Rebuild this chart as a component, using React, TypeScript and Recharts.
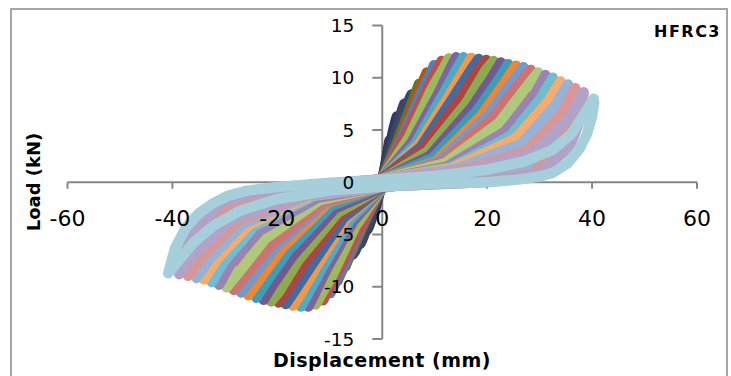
import { ScatterChart, Scatter, XAxis, YAxis, ReferenceLine, ReferenceDot } from 'recharts';

const xTicks = [-60, -40, -20, 0, 20, 40, 60];
const yTicks = [-15, -10, -5, 0, 5, 10, 15];

// one array per load cycle, [displacement mm, load kN]
const cycle01 = [[1.4,4],[1.3,3.8],[1.1,3.2],[0.6,1.7],[0,0.1],[-0.7,-1.2],[-1.1,-1.9],[-1.3,-2.3],[-1.4,-2.6],[-1.3,-2.5],[-1.1,-2.1],[-0.6,-1.1],[0,-0.1],[0.7,1.8],[1.1,2.9],[1.3,3.6],[1.4,4]];
const cycle02 = [[2.8,6.3],[2.6,6],[2.1,5],[1.1,2.7],[0,0.2],[-1.4,-2],[-2.2,-3.2],[-2.6,-4.1],[-2.8,-4.5],[-2.6,-4.3],[-2.1,-3.6],[-1.1,-1.9],[0,-0.2],[1.4,2.8],[2.2,4.5],[2.6,5.7],[2.8,6.3]];
const cycle03 = [[4.2,7.5],[3.9,7.1],[3.2,5.9],[1.7,3.2],[0,0.2],[-2.1,-2.7],[-3.3,-4.2],[-3.9,-5.3],[-4.2,-5.9],[-3.9,-5.6],[-3.2,-4.7],[-1.7,-2.5],[0,-0.2],[2.1,3.4],[3.3,5.4],[3.9,6.8],[4.2,7.5]];
const cycle04 = [[5.6,8.4],[5.2,8],[4.2,6.6],[2.2,3.6],[0,0.3],[-2.8,-3.1],[-4.4,-5],[-5.2,-6.2],[-5.6,-6.9],[-5.2,-6.6],[-4.2,-5.5],[-2.2,-3],[0,-0.3],[2.8,3.8],[4.4,6],[5.2,7.6],[5.6,8.4]];
const cycle05 = [[7,9.4],[6.5,8.7],[5.3,7.1],[2.8,3.8],[0,0.3],[-3.5,-1.8],[-5.5,-4.2],[-6.5,-6.4],[-6.9,-7.4],[-7,-8],[-6.5,-7.4],[-5.3,-6.1],[-2.8,-3.2],[0,-0.3],[3.5,1.9],[5.5,4.7],[6.5,7.5],[6.9,8.7],[7,9.4]];
const cycle06 = [[8.5,10.5],[7.9,9.8],[6.4,8],[3.4,4.2],[0,0.3],[-4.3,-2.1],[-6.6,-4.9],[-7.9,-7.5],[-8.3,-8.6],[-8.5,-9.4],[-7.9,-8.7],[-6.4,-7.1],[-3.4,-3.8],[0,-0.4],[4.3,2.1],[6.6,5.2],[7.9,8.4],[8.3,9.8],[8.5,10.5]];
const cycle07 = [[9.9,11.2],[9.2,10.4],[7.4,8.5],[4,4.5],[0,0.3],[-5,-2.3],[-7.7,-5.5],[-9.2,-8.5],[-9.7,-9.8],[-9.9,-10.6],[-9.2,-9.9],[-7.4,-8.1],[-4,-4.2],[0,-0.4],[5,2.2],[7.7,5.6],[9.2,9],[9.7,10.4],[9.9,11.2]];
const cycle08 = [[11.3,11.6],[10.5,10.8],[8.5,8.8],[4.5,4.6],[0,0.3],[-5.7,-2.5],[-8.8,-5.9],[-10.5,-9],[-11.1,-10.4],[-11.3,-11.3],[-10.5,-10.5],[-8.5,-8.6],[-4.5,-4.5],[0,-0.5],[5.7,2.3],[8.8,5.8],[10.5,9.3],[11.1,10.8],[11.3,11.6]];
const cycle09 = [[12.7,11.85],[11.8,11],[9.5,9],[5.1,4.3],[0,0.4],[-6.4,-2.6],[-9.9,-6.1],[-11.8,-9.4],[-12.4,-10.8],[-12.7,-11.7],[-11.8,-10.9],[-9.5,-8.9],[-5.1,-4.2],[0,-0.5],[6.4,2.4],[9.9,5.9],[11.8,9.5],[12.4,11],[12.7,11.85]];
const cycle10 = [[14.1,11.95],[13.1,11],[10.6,8.4],[5.6,3.8],[0,0.4],[-7.1,-1.4],[-11,-3.8],[-13.1,-7.7],[-13.8,-10.4],[-14.1,-11.9],[-13.1,-10.9],[-10.6,-8.3],[-5.6,-3.8],[0,-0.5],[7.1,1],[11,3],[13.1,7.2],[13.8,10.2],[14.1,11.95]];
const cycle11 = [[15.5,11.95],[14.4,11],[11.6,8.4],[6.2,3.6],[0,0.4],[-7.8,-1.4],[-12.1,-3.8],[-14.4,-7.7],[-15.2,-10.4],[-15.5,-11.9],[-14.4,-10.9],[-11.6,-8.3],[-6.2,-3.6],[0,-0.5],[7.8,1],[12.1,3],[14.4,7.2],[15.2,10.2],[15.5,11.95]];
const cycle12 = [[17,11.9],[15.8,10.9],[12.8,8.3],[6.8,3.5],[0,0.4],[-8.5,-1.4],[-13.3,-3.8],[-15.8,-7.7],[-16.7,-10.3],[-17,-11.8],[-15.8,-10.9],[-12.8,-8.3],[-6.8,-3.4],[0,-0.5],[8.5,1],[13.3,3],[15.8,7.1],[16.7,10.1],[17,11.9]];
const cycle13 = [[18.4,11.8],[17.1,10.9],[13.8,8.3],[7.4,3.4],[0,0.4],[-9.2,-1.4],[-14.4,-3.7],[-17.1,-7.6],[-18,-10.1],[-18.4,-11.65],[-17.1,-10.7],[-13.8,-8.2],[-7.4,-3.4],[0,-0.5],[9.2,0.9],[14.4,3],[17.1,7.1],[18,10],[18.4,11.8]];
const cycle14 = [[19.8,11.7],[18.4,10.8],[14.9,8],[7.9,3.2],[0,0.4],[-9.9,-1.4],[-15.4,-3.7],[-18.4,-7.5],[-19.4,-10],[-19.8,-11.5],[-18.4,-10.6],[-14.9,-7.8],[-7.9,-3.1],[0,-0.5],[9.9,0.9],[15.4,2.9],[18.4,7],[19.4,9.9],[19.8,11.7]];
const cycle15 = [[21.2,11.6],[19.7,10.7],[15.9,7.5],[8.5,2.9],[0,0.3],[-10.6,-1.4],[-16.5,-3.6],[-19.7,-7.4],[-20.8,-9.9],[-21.2,-11.4],[-19.7,-10.5],[-15.9,-7.4],[-8.5,-2.9],[0,-0.5],[10.6,0.9],[16.5,2.9],[19.7,7],[20.8,9.9],[21.2,11.6]];
const cycle16 = [[22.6,11.45],[21,10.1],[17,7.1],[9,2.5],[0,0.3],[-11.3,-0.9],[-17.6,-2.8],[-21,-6.5],[-22.1,-9.4],[-22.6,-11.25],[-21,-9.9],[-17,-7],[-9,-2.5],[0,-0.5],[11.3,0.3],[17.6,1.7],[21,5.7],[22.1,8.9],[22.6,11.45]];
const cycle17 = [[24,11.3],[22.3,9.9],[18,6.8],[9.6,2.3],[0,0.3],[-12,-0.9],[-18.7,-2.8],[-22.3,-6.4],[-23.5,-9.3],[-24,-11.05],[-22.3,-9.7],[-18,-6.6],[-9.6,-2.2],[0,-0.4],[12,0.3],[18.7,1.7],[22.3,5.6],[23.5,8.8],[24,11.3]];
const cycle18 = [[25.5,11.15],[23.7,9.8],[19.1,6.5],[10.2,2],[0,0.3],[-12.8,-0.9],[-19.9,-2.7],[-23.7,-6.3],[-25,-9.1],[-25.5,-10.8],[-23.7,-9.5],[-19.1,-6.3],[-10.2,-1.9],[0,-0.4],[12.8,0.3],[19.9,1.7],[23.7,5.6],[25,8.7],[25.5,11.15]];
const cycle19 = [[26.9,11],[25,9.7],[20.2,6.4],[10.8,2],[0,0.3],[-13.5,-0.8],[-21,-2.6],[-25,-6.1],[-26.4,-8.9],[-26.9,-10.55],[-25,-9.3],[-20.2,-6.1],[-10.8,-1.9],[0,-0.4],[13.5,0.3],[21,1.6],[25,5.5],[26.4,8.6],[26.9,11]];
const cycle20 = [[28.3,10.75],[26.3,9.5],[21.2,6.2],[11.3,1.9],[0,0.3],[-14.2,-0.8],[-22.1,-2.6],[-26.3,-6],[-27.7,-8.7],[-28.3,-10.3],[-26.3,-9.1],[-21.2,-6],[-11.3,-1.9],[0,-0.4],[14.2,0.3],[22.1,1.6],[26.3,5.4],[27.7,8.4],[28.3,10.75]];
const cycle21 = [[29.7,10.5],[27.6,9.2],[22.3,5.7],[11.9,1.8],[0,0.3],[-14.9,-0.8],[-23.2,-2.5],[-27.6,-5.8],[-29.1,-8.4],[-29.7,-10.05],[-27.6,-8.8],[-22.3,-5.4],[-11.9,-1.7],[0,-0.4],[14.9,0.3],[23.2,1.6],[27.6,5.2],[29.1,8.2],[29.7,10.5]];
const cycle22 = [[31.1,10.25],[28.9,8.2],[23.3,4.8],[12.4,1.5],[0,0.3],[-15.6,-0.7],[-24.3,-2.2],[-28.9,-5.4],[-30.5,-8],[-31.1,-9.8],[-28.9,-7.8],[-23.3,-4.6],[-12.4,-1.5],[0,-0.4],[15.6,0.1],[24.3,1.1],[28.9,4.5],[30.5,7.4],[31.1,10.25]];
const cycle23 = [[32.5,10],[30.2,8],[24.4,4.4],[13,1.4],[0,0.3],[-16.3,-0.7],[-25.4,-2.1],[-30.2,-5.3],[-31.9,-7.8],[-32.5,-9.55],[-30.2,-7.6],[-24.4,-4.2],[-13,-1.3],[0,-0.4],[16.3,0.1],[25.4,1.1],[30.2,4.4],[31.9,7.2],[32.5,10]];
const cycle24 = [[34,9.65],[31.6,7.7],[25.5,4.2],[13.6,1.4],[0,0.3],[-17,-0.7],[-26.5,-2],[-31.6,-5.1],[-33.3,-7.6],[-34,-9.3],[-31.6,-7.4],[-25.5,-4.1],[-13.6,-1.3],[0,-0.4],[17,0.1],[26.5,1.1],[31.6,4.2],[33.3,7],[34,9.65]];
const cycle25 = [[35.4,9.35],[32.9,7.3],[26.6,3.7],[14.2,1.3],[0,0.3],[-17.7,-0.6],[-27.6,-2],[-32.9,-5],[-34.7,-7.5],[-35.4,-9.15],[-32.9,-7.3],[-26.6,-4],[-14.2,-1.3],[0,-0.4],[17.7,0.1],[27.6,1],[32.9,4.1],[34.7,6.7],[35.4,9.35]];
const cycle26 = [[36.8,9],[34.2,6.5],[27.6,3],[14.7,1.1],[0,0.3],[-18.5,-0.5],[-28.9,-1.9],[-34.4,-4.7],[-36.3,-7.2],[-37,-8.95],[-34.4,-7.2],[-27.8,-3.8],[-14.8,-1.3],[0,-0.4],[18.4,0],[28.7,0.8],[34.2,3.5],[36.1,6.1],[36.8,9]];
const cycle27 = [[38.4,8.6],[35.7,6.2],[28.8,2.8],[15.4,1],[0,0.3],[-19.4,-0.5],[-30.2,-1.8],[-36,-4.7],[-37.9,-7],[-38.7,-8.8],[-36,-7],[-29,-3.7],[-15.5,-1.3],[0,-0.4],[19.2,0],[30,0.8],[35.7,3.4],[37.6,5.8],[38.4,8.6]];
const cycle28 = [[40.3,8],[38.6,6.6],[36,4.6],[32.5,3.1],[27,2],[20,1.2],[10,0.6],[0,0.25],[-10,-0.05],[-20,-0.45],[-25.7,-0.8],[-29.5,-1.3],[-32.5,-2.1],[-35,-3],[-37.4,-4.3],[-39.5,-6.3],[-40.8,-8.7],[-39,-7.6],[-36,-5.8],[-32,-4.1],[-27,-2.7],[-20,-1.6],[-10,-0.8],[0,-0.4],[10,-0.15],[20,0],[26,0.25],[30,0.55],[32.5,0.9],[35.3,1.8],[37.6,3.2],[39,4.6],[40,6.3],[40.4,7.6],[40.3,8]];

const cycles = [
    cycle01, cycle02, cycle03, cycle04, cycle05, cycle06, cycle07, cycle08, cycle09, cycle10,
    cycle11, cycle12, cycle13, cycle14, cycle15, cycle16, cycle17, cycle18, cycle19, cycle20,
    cycle21, cycle22, cycle23, cycle24, cycle25, cycle26, cycle27, cycle28,
];

// Excel-style series colours, darkest cycles in the middle, pastels outside
const cycleColors = [
    '#3F3151', '#254061', '#4D3B62', '#2C4D75', '#5F7530', '#B65708',
    '#4F81BD', '#C0504D', '#9BBB59', '#8064A2', '#4BACC6', '#F79646',
    '#3E6DA6', '#AE4542', '#8CAB4C', '#735893', '#3D9CB6', '#F08632',
    '#729ACA', '#CD7371', '#AFC97A', '#9983B5', '#6FBDD1', '#F9AB6B',
    '#95B3D7', '#D99694', '#B3A2C7', '#A5CFDB',
];

const AXIS = '#868686';
const FONT = '"DejaVu Sans", sans-serif';

const NoMarker = () => <g />;

export default function App() {
    return (
        <div style={{ position: 'fixed', left: 0, top: 0, width: 731, height: 376, overflow: 'hidden', background: '#fff' }}>
            <div style={{ position: 'absolute', left: 10, top: 8, width: 718, height: 400, border: '2px solid #a6a6a6', boxSizing: 'border-box' }} />
            <ScatterChart width={731} height={376} margin={{ top: 25.5, right: 34, bottom: 37, left: 67.5 }} style={{ position: 'absolute', left: 0, top: 0 }}>
                <XAxis type="number" dataKey="x" domain={[-60, 60]} ticks={xTicks} hide />
                <YAxis type="number" dataKey="y" domain={[-15, 15]} ticks={yTicks} hide />
                <ReferenceLine y={0} stroke={AXIS} strokeWidth={2} zIndex={100} />
                <ReferenceLine x={0} stroke={AXIS} strokeWidth={2} zIndex={100} />
                {xTicks.map((t) => (
                    <ReferenceLine key={'xt' + t} segment={[{ x: t, y: 0 }, { x: t, y: -0.62 }]} stroke={AXIS} strokeWidth={2} zIndex={100} />
                ))}
                {yTicks.map((t) => (
                    <ReferenceLine key={'yt' + t} segment={[{ x: 0, y: t }, { x: -1.9, y: t }]} stroke={AXIS} strokeWidth={2} zIndex={100} />
                ))}
                {cycles.map((c, i) => (
                    <Scatter
                        key={'c' + i}
                        data={c.map(([x, y]) => ({ x, y }))}
                        fill={cycleColors[i]}
                        line={{ stroke: cycleColors[i], strokeWidth: 10.5, strokeLinejoin: 'round', strokeLinecap: 'round' }}
                        lineJointType="linear"
                        shape={NoMarker}
                        isAnimationActive={false}
                    />
                ))}
                {xTicks.map((t) => (
                    <ReferenceDot key={'xl' + t} x={t} y={0} r={0} fill="none" stroke="none" zIndex={2000}
                        label={{ value: String(t), position: 'bottom', offset: 28, fill: '#000', fontSize: 22, fontFamily: FONT }} />
                ))}
                {yTicks.map((t) => (
                    <ReferenceDot key={'yl' + t} x={0} y={t} r={0} fill="none" stroke="none" zIndex={2000}
                        label={{ value: String(t), position: 'left', offset: 28, fill: '#000', fontSize: 18.5, fontFamily: FONT }} />
                ))}
            </ScatterChart>
            <svg width={731} height={376} style={{ position: 'absolute', left: 0, top: 0, pointerEvents: 'none' }}>
                <text x={382} y={367} textAnchor="middle" fontFamily={FONT} fontWeight="bold" fontSize={19} letterSpacing={0.5} fill="#000">
                    Displacement (mm)
                </text>
                <text transform="translate(40,182) rotate(-90)" textAnchor="middle" fontFamily={FONT} fontWeight="bold" fontSize={18} fill="#000">
                    Load (kN)
                </text>
                <text x={721} y={37} textAnchor="end" fontFamily={FONT} fontWeight="bold" fontSize={16} letterSpacing={1.5} fill="#000">
                    HFRC3
                </text>
            </svg>
        </div>
    );
}
